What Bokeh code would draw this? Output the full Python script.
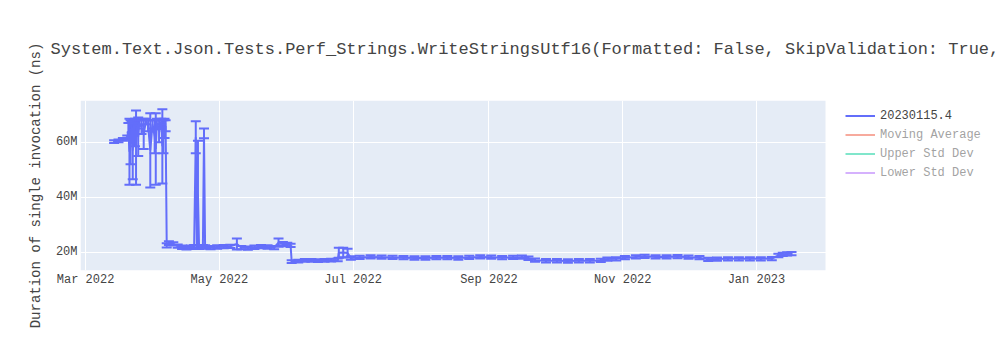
import pandas as pd
from bokeh.plotting import figure
from bokeh.models import (ColumnDataSource, Range1d, FixedTicker, DatetimeTickFormatter,
                          CustomJSTickFormatter, Whisker, TeeHead, Legend, LegendItem,
                          BoxAnnotation)
from bokeh.embed import file_html
from bokeh.resources import INLINE

# ---- data ----
run_dates = [
    "2022-03-14", "2022-03-16", "2022-03-18", "2022-03-20 00:00", "2022-03-20 12:00",
    "2022-03-21 00:00", "2022-03-21 12:00", "2022-03-22 00:00", "2022-03-22 12:00", "2022-03-23 00:00",
    "2022-03-23 12:00", "2022-03-24 00:00", "2022-03-24 12:00", "2022-03-25 00:00", "2022-03-25 12:00",
    "2022-03-26 12:00", "2022-03-27 12:00", "2022-03-28 12:00", "2022-03-29 12:00", "2022-03-30 12:00",
    "2022-03-31 12:00", "2022-04-01 12:00", "2022-04-02 00:00", "2022-04-02 12:00", "2022-04-03 12:00",
    "2022-04-04 12:00", "2022-04-05 00:00", "2022-04-05 12:00", "2022-04-06 00:00", "2022-04-06 12:00",
    "2022-04-07 00:00", "2022-04-08", "2022-04-10", "2022-04-12", "2022-04-14",
    "2022-04-16", "2022-04-18", "2022-04-19 12:00", "2022-04-20 06:00", "2022-04-20 18:00",
    "2022-04-21 06:00", "2022-04-21 18:00", "2022-04-23 12:00", "2022-04-24 00:00", "2022-04-24 12:00",
    "2022-04-27", "2022-04-30", "2022-05-03", "2022-05-06", "2022-05-09",
    "2022-05-11", "2022-05-14", "2022-05-17", "2022-05-20", "2022-05-23",
    "2022-05-26", "2022-05-28", "2022-05-30", "2022-06-01", "2022-06-02 12:00",
    "2022-06-03", "2022-06-06", "2022-06-09", "2022-06-12", "2022-06-15",
    "2022-06-18", "2022-06-21", "2022-06-24", "2022-06-24 12:00", "2022-06-26 12:00",
    "2022-06-28 12:00", "2022-06-30", "2022-07-04", "2022-07-09", "2022-07-14",
    "2022-07-19", "2022-07-24", "2022-07-29", "2022-08-03", "2022-08-08",
    "2022-08-13", "2022-08-18", "2022-08-23", "2022-08-28", "2022-09-02",
    "2022-09-07", "2022-09-12", "2022-09-16", "2022-09-19", "2022-09-22",
    "2022-09-27", "2022-10-02", "2022-10-07", "2022-10-12", "2022-10-17",
    "2022-10-22", "2022-10-25", "2022-10-29", "2022-11-02", "2022-11-07",
    "2022-11-11", "2022-11-16", "2022-11-21", "2022-11-26", "2022-12-01",
    "2022-12-06", "2022-12-10", "2022-12-14", "2022-12-19", "2022-12-24",
    "2022-12-29", "2023-01-03", "2023-01-08", "2023-01-11", "2023-01-13",
    "2023-01-15", "2023-01-17",
]
# mean duration, millions of ns
duration_m = [
    60.2, 60.5, 61.0, 61.8, 64.0,
    56.5, 60.0, 65.5, 57.0, 66.0,
    63.5, 58.0, 66.5, 62.0, 67.0,
    65.5, 63.0, 67.5, 66.0, 57.0,
    66.5, 62.0, 57.5, 67.0, 64.0,
    67.5, 58.5, 62.0, 65.0, 66.0,
    22.5, 23.3, 23.0, 22.2, 21.8,
    21.6, 21.8, 22.0, 61.8, 22.0,
    41.0, 21.8, 22.0, 63.2, 21.9,
    21.7, 21.9, 22.0, 22.1, 23.0,
    21.7, 21.5, 21.8, 22.0, 21.9,
    21.7, 23.5, 23.1, 22.8, 22.5,
    16.6, 16.8, 17.0, 17.0, 16.9,
    17.0, 17.1, 17.2, 19.8, 19.9,
    19.7, 17.9, 18.1, 18.3, 18.2,
    18.1, 18.0, 17.9, 17.9, 18.0,
    18.0, 17.9, 18.1, 18.3, 18.2,
    18.0, 18.1, 18.2, 17.8, 17.1,
    16.9, 16.9, 16.8, 16.9, 16.9,
    17.0, 17.5, 17.6, 18.0, 18.3,
    18.5, 18.3, 18.3, 18.4, 18.2,
    18.0, 17.4, 17.5, 17.6, 17.6,
    17.6, 17.6, 17.7, 18.8, 19.2,
    19.4, 19.5,
]
# standard deviation, millions of ns
stddev_m = [
    0.5, 0.5, 0.5, 0.6, 3.0,
    12.0, 8.0, 2.0, 10.5, 1.5,
    5.0, 13.5, 1.5, 7.0, 1.0,
    2.5, 5.5, 1.0, 2.0, 13.5,
    1.5, 6.0, 13.0, 1.5, 4.0,
    1.0, 13.5, 6.0, 3.5, 2.0,
    0.8, 0.7, 0.6, 0.6, 0.6,
    0.6, 0.6, 0.6, 5.8, 0.6,
    19.5, 0.6, 0.6, 1.8, 0.6,
    0.6, 0.6, 0.6, 0.6, 2.0,
    0.6, 0.6, 0.6, 0.6, 0.6,
    0.6, 1.5, 0.6, 0.6, 0.6,
    0.5, 0.5, 0.5, 0.5, 0.5,
    0.5, 0.5, 0.5, 1.8, 1.7,
    1.6, 0.6, 0.6, 0.6, 0.6,
    0.6, 0.6, 0.6, 0.6, 0.6,
    0.6, 0.6, 0.6, 0.6, 0.6,
    0.6, 0.6, 0.6, 0.6, 0.6,
    0.6, 0.6, 0.6, 0.6, 0.6,
    0.6, 0.6, 0.6, 0.6, 0.6,
    0.6, 0.6, 0.6, 0.6, 0.6,
    0.6, 0.6, 0.6, 0.6, 0.6,
    0.6, 0.6, 0.6, 0.6, 0.6,
    0.6, 0.6,
]
series_names = ["20230115.4", "Moving Average", "Upper Std Dev", "Lower Std Dev"]
series_colors = ["#636EFA", "#EF553B", "#00CC96", "#AB63FA"]
y_ticks = [20e6, 40e6, 60e6]
x_ticks = ["2022-03-01", "2022-05-01", "2022-07-01", "2022-09-01", "2022-11-01", "2023-01-01"]
title_text = "System.Text.Json.Tests.Perf_Strings.WriteStringsUtf16(Formatted: False, SkipValidation: True,"
y_label = "Duration of single invocation (ns)"

FONT = "Liberation Mono"
TXT = "#444444"
BG = "#E5ECF6"

x = pd.to_datetime(run_dates, format="mixed")
y = [v * 1e6 for v in duration_m]
s = [v * 1e6 for v in stddev_m]
src = ColumnDataSource(dict(x=x, y=y,
                            upper=[a + b for a, b in zip(y, s)],
                            lower=[a - b for a, b in zip(y, s)]))

# the plotting area (745 px wide) is followed by a 175 px legend strip inside the frame
x_start = pd.Timestamp("2022-02-26 16:00")
x_plot_end = pd.Timestamp("2023-02-01 12:00")
x_view_end = x_start + (x_plot_end - x_start) * (920 / 745)

p = figure(width=1000, height=350, output_backend="svg", toolbar_location=None,
           x_axis_type="datetime",
           x_range=Range1d(x_start, x_view_end),
           y_range=Range1d(13.35e6, 75.16e6),
           background_fill_color="white", border_fill_color="white",
           min_border_left=80, min_border_right=0, min_border_top=100, min_border_bottom=80,
           outline_line_color=None, title=title_text)

bg = BoxAnnotation(right=x_plot_end.value / 1e6, fill_color=BG, fill_alpha=1,
                   line_color=None, level="image")
p.add_layout(bg)

p.title.text_font = FONT
p.title.text_font_size = "17px"
p.title.text_font_style = "normal"
p.title.text_color = TXT
p.title.align = "left"
p.title.offset = -30
p.title.vertical_align = "top"
p.title.standoff = 79

# grids
for g in (p.xgrid, p.ygrid):
    g.grid_line_color = "white"
    g.grid_line_width = 1
p.ygrid.ticker = FixedTicker(ticks=y_ticks)
x_tick_ms = [pd.Timestamp(t).value / 1e6 for t in x_ticks]
p.xgrid.ticker = FixedTicker(ticks=x_tick_ms)

# axes
for ax in (p.xaxis[0], p.yaxis[0]):
    ax.axis_line_color = None
    ax.major_tick_line_color = None
    ax.minor_tick_line_color = None
    ax.major_tick_out = 0
    ax.major_tick_in = 0
    ax.minor_tick_out = 0
    ax.minor_tick_in = 0
    ax.major_label_text_font = FONT
    ax.major_label_text_font_size = "12px"
    ax.major_label_text_color = TXT
p.yaxis[0].ticker = FixedTicker(ticks=y_ticks)
p.yaxis[0].formatter = CustomJSTickFormatter(code="return (tick/1e6).toFixed(0) + 'M';")
p.yaxis[0].major_label_standoff = 3
p.yaxis[0].axis_label = y_label
p.yaxis[0].axis_label_text_font = FONT
p.yaxis[0].axis_label_text_font_size = "14px"
p.yaxis[0].axis_label_text_font_style = "normal"
p.yaxis[0].axis_label_text_color = TXT
p.yaxis[0].axis_label_standoff = 9
p.xaxis[0].ticker = FixedTicker(ticks=x_tick_ms)
fmt = "%b %Y"
p.xaxis[0].formatter = DatetimeTickFormatter(years=fmt, months=fmt, days=fmt, hours=fmt,
                                             minutes=fmt, seconds=fmt, milliseconds=fmt,
                                             minsec=fmt, hourmin=fmt)
p.xaxis[0].major_label_standoff = 2

# error bars
head_kw = dict(size=10, line_color=series_colors[0], line_width=2)
wh = Whisker(base="x", upper="upper", lower="lower", source=src,
             line_color=series_colors[0], line_width=2,
             upper_head=TeeHead(**head_kw), lower_head=TeeHead(**head_kw))
p.add_layout(wh)

main = p.line("x", "y", source=src, line_color=series_colors[0], line_width=2)

# hidden (legend-only) series: their values are not shown in the reference
items = [LegendItem(label=series_names[0], renderers=[main])]
for name, col in zip(series_names[1:], series_colors[1:]):
    r = p.line(x=[x[0]], y=[float("nan")], line_color=col, line_width=2)
    r.visible = False
    items.append(LegendItem(label=name, renderers=[r]))

legend = Legend(items=items, location=(765, 88), click_policy="hide",
                background_fill_alpha=0, border_line_color=None,
                label_text_font=FONT, label_text_font_size="12px", label_text_color=TXT,
                glyph_width=30, glyph_height=19, label_height=19, label_standoff=5,
                spacing=0, padding=5, margin=0,
                inactive_fill_color="white", inactive_fill_alpha=0.5)
p.add_layout(legend)

open("out.html", "w").write(file_html(p, INLINE))
